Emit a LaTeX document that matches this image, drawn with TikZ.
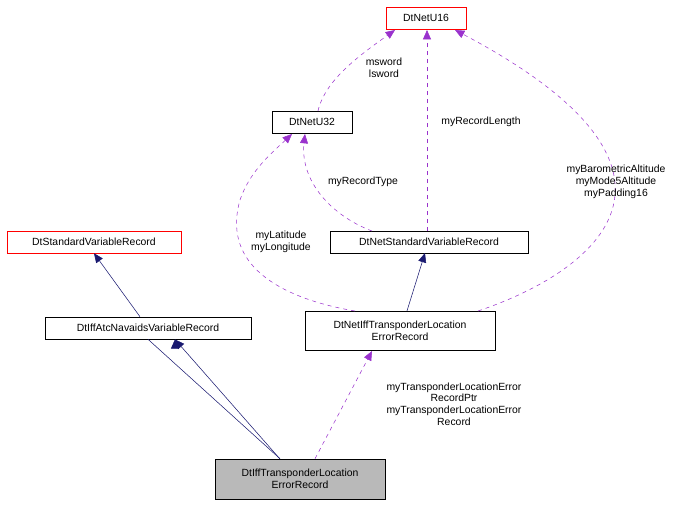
\documentclass[tikz,border=0pt]{standalone}
\usepackage{fontspec}
\setmainfont{Liberation Sans}
\usetikzlibrary{arrows.meta}
\definecolor{navy}{RGB}{25,25,112}
\definecolor{dpurple}{RGB}{154,50,205}
\begin{document}
\begin{tikzpicture}[x=0.75pt,y=-0.75pt,font=\fontsize{7.8pt}{8.8pt}\selectfont,
 box/.style={draw=black,fill=white,minimum height=16.5pt,inner sep=2pt,align=center},
 redbox/.style={draw=red,fill=white,minimum height=16.5pt,inner sep=2pt,align=center},
 inh/.style={color=navy,-{Triangle[length=7pt,width=6pt]}},
 use/.style={color=dpurple,dashed,-{Triangle[length=7pt,width=6pt]}},
 lbl/.style={align=center,inner sep=0pt,text=black}]
\useasboundingbox (0,0) rectangle (697,507);
\node[redbox,minimum width=60pt] (u16) at (426,18) {DtNetU16};
\node[box,minimum width=60pt] (u32) at (312,122) {DtNetU32};
\node[redbox,minimum width=130.5pt] (svr) at (94,242) {DtStandardVariableRecord};
\node[box,minimum width=148.5pt] (nsvr) at (429,242) {DtNetStandardVariableRecord};
\node[box,minimum width=154.5pt] (atc) at (148,328) {DtIffAtcNavaidsVariableRecord};
\node[box,minimum width=142.5pt,minimum height=29pt] (nit) at (400,330.5) {DtNetIffTransponderLocation\\ErrorRecord};
\node[box,fill=gray!55,minimum width=127.5pt,minimum height=30pt] (it) at (300,479) {DtIffTransponderLocation\\ErrorRecord};
\draw[inh] (atc.north) ++(-8,0) -- (svr.south);
\draw[inh] (it.north) ++(-20,0) -- (atc.south) ++(27,0);
\draw[inh] (280,459) -- (175,339.5);
\draw[inh] (nit.north) ++(7,0) -- (425,253);
\draw[use] (318,111) .. controls (325,80) and (360,55) .. (395,30);
\node[lbl] at (384,68) {msword\\lsword};
\draw[use] (372,231) .. controls (330,215) and (300,180) .. (305,134);
\node[lbl] at (363,182) {myRecordType};
\draw[use] (427,231) -- (427,30);
\node[lbl] at (481,122) {myRecordLength};
\draw[use] (478,311) .. controls (600,270) and (720,170) .. (455,30);
\node[lbl] at (616,182) {myBarometricAltitude\\myMode5Altitude\\myPadding16};
\draw[use] (355,311) .. controls (290,300) and (220,270) .. (240,200) .. controls (250,170) and (275,150) .. (292,134);
\node[lbl] at (281,242) {myLatitude\\myLongitude};
\draw[use] (it.north) ++(15,0) -- (372,351);
\node[lbl] at (454,404) {myTransponderLocationError\\RecordPtr\\myTransponderLocationError\\Record};
\end{tikzpicture}
\end{document}
